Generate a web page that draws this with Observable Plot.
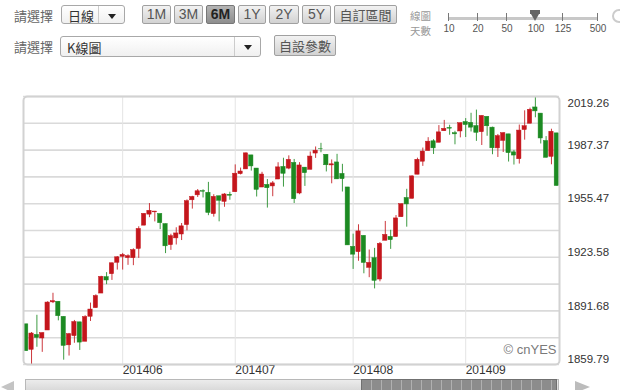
<!DOCTYPE html>
<html>
<head>
<meta charset="utf-8">
<script src="https://cdn.jsdelivr.net/npm/d3@7"></script>
<script src="https://cdn.jsdelivr.net/npm/@observablehq/plot@0.6"></script>
<style>
  html, body { margin:0; padding:0; background:#fff; }
  #page { position:relative; width:620px; height:390px; overflow:hidden; font-family:"Liberation Sans", Arial, sans-serif; }
  .abs { position:absolute; }
  .lbl { font:13px "Noto Sans CJK TC", sans-serif; color:#666; line-height:16px; }
  .lbl2 { font:10.5px "Noto Sans CJK TC", sans-serif; color:#999; line-height:12px; }
  .dd { border:1px solid #a8a8a8; border-radius:3px; background:linear-gradient(#ffffff,#f0f0f0); box-sizing:border-box; }
  .dd .t { position:absolute; left:6px; top:1px; font:13px "Noto Sans CJK TC", sans-serif; color:#333; }
  .dd .arr { position:absolute; top:0; bottom:0; width:26px; border-left:1px solid #ccc; }
  .dd .arr:after { content:""; position:absolute; left:9px; top:8px; border-left:4px solid transparent; border-right:4px solid transparent; border-top:5px solid #222; }
  .btn { border:1px solid #a0a0a0; border-radius:2px; background:linear-gradient(#f2f2f2,#d2d2d2); box-sizing:border-box; text-align:center; font:14px "Liberation Sans Narrow","Liberation Sans", Arial, sans-serif; color:#555; line-height:17px; }
  .btn.cjk { font:13px "Noto Sans CJK TC", sans-serif; line-height:17px; }
  .btn.on { background:linear-gradient(#b4b4b4,#8e8e8e); color:#222; font-weight:bold; border-color:#777; }
  .sl { font:10px "Liberation Sans Narrow","Liberation Sans", Arial, sans-serif; color:#555; transform:translateX(-50%); }
  #chart { position:absolute; left:0; top:85px; }
</style>
</head>
<body>
<div id="page">
  <div class="abs lbl" style="left:14px;top:8px;">請選擇</div>
  <div class="abs dd" style="left:61px;top:5px;width:64px;height:19px;"><span class="t" style="top:0px">日線</span><span class="arr" style="left:36px"></span></div>
  <div class="abs btn" style="left:142px;top:5px;width:29px;height:19px;">1M</div>
  <div class="abs btn" style="left:174px;top:5px;width:29px;height:19px;">3M</div>
  <div class="abs btn on" style="left:206px;top:5px;width:29px;height:19px;">6M</div>
  <div class="abs btn" style="left:238px;top:5px;width:28px;height:19px;">1Y</div>
  <div class="abs btn" style="left:269px;top:5px;width:30px;height:19px;">2Y</div>
  <div class="abs btn" style="left:302px;top:5px;width:29px;height:19px;">5Y</div>
  <div class="abs btn cjk" style="left:334px;top:5px;width:63px;height:19px;">自訂區間</div>
  <div class="abs lbl2" style="left:410px;top:9.5px;">線圖</div>
  <div class="abs lbl2" style="left:410px;top:25px;">天數</div>
  <div class="abs" style="left:448px;top:17px;width:150px;height:3px;background:#c8c8c8;"></div>
  <div class="abs" style="left:448px;top:13px;width:1px;height:8px;background:#777;"></div>
  <div class="abs" style="left:477px;top:13px;width:1px;height:8px;background:#777;"></div>
  <div class="abs" style="left:506px;top:13px;width:1px;height:8px;background:#777;"></div>
  <div class="abs" style="left:562px;top:13px;width:1px;height:8px;background:#777;"></div>
  <div class="abs" style="left:597px;top:13px;width:1px;height:8px;background:#777;"></div>
  <div class="abs" style="left:530px;top:10px;width:10px;height:4px;background:#666;"></div>
  <div class="abs" style="left:531px;top:14px;width:0;height:0;border-left:4px solid transparent;border-right:4px solid transparent;border-top:7px solid #666;"></div>
  <div class="abs sl" style="left:449px;top:23px;">10</div>
  <div class="abs sl" style="left:478px;top:23px;">20</div>
  <div class="abs sl" style="left:507px;top:23px;">50</div>
  <div class="abs sl" style="left:536px;top:23px;">100</div>
  <div class="abs sl" style="left:563px;top:23px;">125</div>
  <div class="abs sl" style="left:598px;top:23px;">500</div>
  <div class="abs" style="left:612px;top:9px;width:14px;height:14px;border-radius:50%;border:2px solid #ccc;box-sizing:border-box;"></div>

  <div class="abs lbl" style="left:14px;top:39px;">請選擇</div>
  <div class="abs dd" style="left:60px;top:36px;width:201px;height:21px;"><span class="t" style="top:1px">K線圖</span><span class="arr" style="left:173px"></span></div>
  <div class="abs btn cjk" style="left:274px;top:35px;width:62px;height:21px;line-height:19px;">自設參數</div>

  <div id="chart"></div>

  <div class="abs" style="left:25px;top:379px;width:534px;height:14px;background:linear-gradient(#ececec,#d6d6d6);border:1px solid #b8b8b8;box-sizing:border-box;"></div>
  <div class="abs" style="left:361px;top:379px;width:196px;height:14px;background:repeating-linear-gradient(90deg,#8c8c8c 0px,#8c8c8c 9px,#b0b0b0 9px,#b0b0b0 10px);border:1px solid #707070;box-sizing:border-box;"></div>
  <div class="abs" style="left:1px;top:381px;width:0;height:0;border-top:6px solid transparent;border-bottom:6px solid transparent;border-right:13px solid #c4c4c4;"></div>
  <div class="abs" style="left:575px;top:381px;width:0;height:0;border-top:6px solid transparent;border-bottom:6px solid transparent;border-left:15px solid #bcbcbc;"></div>
</div>
<script>
const dates = [
 "2014-05-06","2014-05-07","2014-05-08","2014-05-09","2014-05-12","2014-05-13","2014-05-14","2014-05-15","2014-05-16","2014-05-19",
 "2014-05-20","2014-05-21","2014-05-22","2014-05-23","2014-05-27","2014-05-28","2014-05-29","2014-05-30",
 "2014-06-02","2014-06-03","2014-06-04","2014-06-05","2014-06-06","2014-06-09","2014-06-10","2014-06-11","2014-06-12","2014-06-13",
 "2014-06-16","2014-06-17","2014-06-18","2014-06-19","2014-06-20","2014-06-23","2014-06-24","2014-06-25","2014-06-26","2014-06-27","2014-06-30",
 "2014-07-01","2014-07-02","2014-07-03","2014-07-07","2014-07-08","2014-07-09","2014-07-10","2014-07-11","2014-07-14","2014-07-15",
 "2014-07-16","2014-07-17","2014-07-18","2014-07-21","2014-07-22","2014-07-23","2014-07-24","2014-07-25","2014-07-28","2014-07-29","2014-07-30","2014-07-31",
 "2014-08-01","2014-08-04","2014-08-05","2014-08-06","2014-08-07","2014-08-08","2014-08-11","2014-08-12","2014-08-13","2014-08-14",
 "2014-08-15","2014-08-18","2014-08-19","2014-08-20","2014-08-21","2014-08-22","2014-08-25","2014-08-26","2014-08-27","2014-08-28","2014-08-29",
 "2014-09-02","2014-09-03","2014-09-04","2014-09-05","2014-09-08","2014-09-09","2014-09-10","2014-09-11","2014-09-12","2014-09-15",
 "2014-09-16","2014-09-17","2014-09-18","2014-09-19","2014-09-22","2014-09-23","2014-09-24","2014-09-25"
];
const open = [
 1883.69,1868.53,1877.39,1875.27,1880.03,1896.75,1897.13,1888.16,1871.19,1876.66,
 1884.88,1873.34,1888.19,1893.32,1902.01,1911.77,1913.50,1920.33,
 1923.87,1923.07,1923.06,1928.52,1942.41,1948.97,1950.34,1949.37,1943.35,1930.80,
 1934.84,1937.15,1942.73,1957.50,1960.45,1962.92,1961.97,1949.27,1959.89,1956.56,1960.79,
 1962.29,1973.06,1975.88,1984.22,1976.39,1965.10,1966.67,1965.76,1969.86,1977.36,
 1976.35,1979.75,1961.54,1976.93,1975.65,1985.32,1988.07,1984.60,1978.25,1980.03,1973.21,1965.14,
 1929.80,1926.62,1936.34,1917.29,1923.03,1910.35,1933.43,1935.73,1935.60,1947.41,
 1958.87,1958.36,1972.73,1980.46,1986.82,1992.60,1991.74,1998.59,2000.54,1997.42,1998.45,
 2004.07,2003.57,2001.67,1998.00,2007.17,2000.73,1988.41,1992.85,1996.74,1986.04,
 1981.93,1999.30,2003.07,2012.74,2009.08,1992.78,1983.34,1997.32
];
const high = [
 1883.69,1878.83,1889.07,1878.57,1897.13,1902.17,1897.13,1888.16,1878.28,1886.00,
 1884.88,1888.80,1896.33,1901.26,1912.28,1914.46,1920.03,1924.03,
 1925.88,1925.07,1928.63,1941.74,1949.44,1955.55,1950.86,1949.37,1943.35,1937.30,
 1941.15,1943.69,1957.74,1959.87,1963.91,1963.74,1968.17,1960.83,1959.89,1961.47,1962.29,
 1978.58,1976.67,1985.59,1984.22,1976.39,1974.15,1969.84,1968.67,1979.85,1982.52,
 1983.94,1981.80,1979.91,1976.93,1986.24,1989.23,1991.39,1984.60,1981.52,1984.85,1978.90,1965.14,
 1937.35,1942.92,1936.34,1927.91,1928.89,1932.38,1944.90,1939.65,1948.41,1955.23,
 1964.04,1971.99,1982.57,1988.57,1994.76,1993.54,2001.95,2005.04,2002.14,1998.55,2003.38,
 2006.12,2009.28,2011.17,2007.71,2007.17,2001.01,1996.66,1997.65,1996.74,1987.18,
 2002.28,2010.74,2012.34,2019.26,2009.08,1995.41,1999.79,1997.32
];
const low = [
 1867.72,1859.79,1870.05,1867.02,1880.03,1896.06,1885.77,1862.36,1864.82,1872.42,
 1868.14,1873.34,1885.39,1893.32,1902.01,1907.30,1909.82,1915.98,
 1915.98,1918.79,1918.60,1922.93,1942.41,1947.16,1944.64,1940.08,1925.78,1927.69,
 1930.91,1933.55,1939.29,1952.26,1959.17,1958.89,1948.34,1947.49,1944.69,1953.35,1957.53,
 1962.29,1972.58,1975.88,1974.88,1959.46,1965.10,1952.86,1959.63,1969.86,1965.34,
 1975.67,1955.59,1960.82,1965.77,1975.65,1982.44,1985.79,1974.37,1967.31,1969.95,1962.42,1930.67,
 1916.37,1921.20,1913.77,1911.45,1904.78,1909.01,1933.43,1928.29,1935.60,1947.41,
 1941.50,1958.36,1972.73,1977.68,1986.82,1984.76,1991.74,1998.59,1996.20,1990.52,1994.65,
 1994.85,1998.14,1992.54,1990.10,1995.60,1984.61,1982.99,1985.93,1980.26,1978.48,
 1979.06,1993.29,2003.07,2006.59,1991.01,1982.77,1978.63,1965.99
];
const close = [
 1867.72,1878.21,1875.63,1878.48,1896.65,1897.45,1888.53,1870.85,1877.86,1885.08,
 1872.83,1888.03,1892.49,1900.53,1911.91,1909.78,1920.03,1923.57,
 1924.97,1924.24,1927.88,1940.46,1949.44,1951.27,1950.79,1943.89,1930.11,1936.16,
 1937.78,1941.99,1956.98,1959.48,1962.87,1962.61,1949.98,1959.53,1957.22,1960.96,1960.23,
 1973.32,1974.62,1985.44,1977.65,1963.71,1972.83,1964.68,1967.57,1977.10,1973.28,
 1981.57,1958.12,1978.22,1973.63,1983.53,1987.01,1987.98,1978.34,1978.91,1969.95,1970.07,1930.67,
 1925.15,1938.99,1920.21,1920.24,1909.57,1931.59,1936.92,1933.75,1946.72,1955.18,
 1955.06,1971.74,1981.60,1986.51,1992.37,1988.40,1997.92,2000.02,2000.12,1996.74,2003.37,
 2002.28,2000.72,1997.65,2007.71,2001.54,1988.44,1995.69,1997.45,1985.54,1984.13,
 1998.98,2001.57,2011.36,2010.40,1994.29,1982.77,1998.30,1965.99
];
const yTicks = [1859.79, 1891.68, 1923.58, 1955.47, 1987.37, 2019.26];
const monthStarts = ["2014-06-02","2014-07-01","2014-08-01","2014-09-02"];
const monthLabels = ["201406","201407","201408","201409"];
const watermark = "© cnYES";

const candles = dates.map((d, i) => ({date: d, open: open[i], high: high[i], low: low[i], close: close[i]}));
const UP = "#c4161c", DOWN = "#1c8a22";
const col = d => d.close >= d.open ? UP : DOWN;
const gridY = yTicks.concat(d3.pairs(yTicks).map(([a, b]) => (a + b) / 2));
const topTick = d3.max(yTicks);

const chart = Plot.plot({
  width: 620,
  height: 305,
  marginTop: 11,
  marginBottom: 26,
  marginLeft: 23,
  marginRight: 61,
  style: {fontFamily: "'Liberation Sans', Arial, sans-serif", overflow: "visible", background: "transparent"},
  x: {type: "band", domain: dates, paddingInner: 0.2, paddingOuter: 0.1, axis: null},
  y: {domain: [1859.79, 2019.26], axis: null},
  marks: [
    Plot.ruleY(gridY, {stroke: "#dadada", strokeWidth: 1.6}),
    Plot.ruleX(monthStarts, {x: d => d, stroke: "#e4e4e4", strokeWidth: 1}),
    Plot.ruleX(candles, {x: "date", y1: "low", y2: "high", stroke: col, strokeWidth: 1, strokeOpacity: 0.85}),
    Plot.barY(candles, {x: "date", y1: "open", y2: "close", fill: col, stroke: col, strokeWidth: 0.5}),
    Plot.text(monthStarts, {x: d => d, text: (d, i) => monthLabels[i], frameAnchor: "bottom", textAnchor: "start", dx: 0, dy: 9, fontSize: 12, fill: "#333"}),
    Plot.text(yTicks.filter(v => v < topTick), {y: d => d, text: d => d.toFixed(2), frameAnchor: "right", textAnchor: "start", dx: 8, dy: -5, fontSize: 11.5, fill: "#333"}),
    Plot.text(yTicks.filter(v => v === topTick), {y: d => d, text: d => d.toFixed(2), frameAnchor: "right", textAnchor: "start", dx: 8, dy: 7, fontSize: 11.5, fill: "#333"}),
    Plot.text([watermark], {text: d => d, frameAnchor: "bottom-right", textAnchor: "end", dx: -3, dy: -11, fontSize: 13, fill: "#7a7a7a"}),
    Plot.frame({stroke: "#d2d2d2", strokeWidth: 2, rx: 4})
  ]
});
document.getElementById("chart").appendChild(chart);
</script>
</body>
</html>
